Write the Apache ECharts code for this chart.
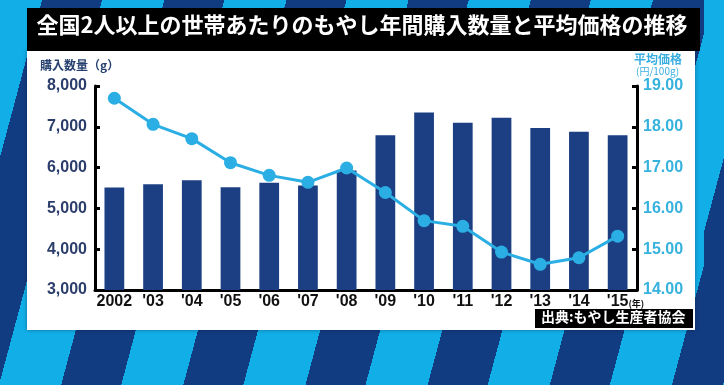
<!DOCTYPE html>
<html><head><meta charset="utf-8">
<script src="https://cdn.jsdelivr.net/npm/echarts@6/dist/echarts.min.js"></script>
<style>
html,body{margin:0;padding:0;}
#bg{position:absolute;left:0;top:0;width:724px;height:385px;
background:repeating-linear-gradient(105deg,#12aee8 0px,#12aee8 60px,#123c82 60px,#123c82 118px);
background-position:-20px 0;}
#c{position:absolute;left:0;top:0;width:724px;height:385px;}
</style></head>
<body><div id="bg"></div><div id="c"></div>
<script>
const years = ['2002',"'03","'04","'05","'06","'07","'08","'09","'10","'11","'12","'13","'14","'15"];
const quantity = [5510, 5590, 5690, 5520, 5630, 5560, 5930, 6790, 7350, 7100, 7220, 6970, 6880, 6790];
const price = [18.70, 18.06, 17.71, 17.12, 16.81, 16.64, 16.99, 16.39, 15.70, 15.56, 14.93, 14.63, 14.79, 15.32];
const leftTicks = [3000, 8000, 1000];
const rightTicks = [14, 19, 1];
const titleText = '全国2人以上の世帯あたりのもやし年間購入数量と平均価格の推移';
const sourceText = '出典:もやし生産者協会';

const chart = echarts.init(document.getElementById('c'), null, {renderer:'canvas'});
const navy = '#1b3f82';
const cyan = '#2aaee3';
const font = '"Liberation Sans", Arial, sans-serif';
const jp = '"Noto Sans CJK JP", sans-serif';
chart.setOption({
  backgroundColor: 'transparent',
  animation: false,
  graphic: [
    {type:'rect', z:-10, shape:{x:27,y:50,width:668,height:280}, style:{fill:'#ffffff', shadowBlur:4, shadowColor:'rgba(0,0,0,0.35)'}},
    {type:'rect', z:-9, shape:{x:27,y:8,width:673,height:43}, style:{fill:'#000000'}},
    {type:'text', z:5, left:'center', top:14, style:{text:titleText, fill:'#ffffff', font:'bold 22px ' + jp}},
    {type:'text', z:5, left:40, top:59, style:{text:'購入数量（g）', fill:'#26406f', font:'bold 12px ' + jp}},
    {type:'text', z:5, left:634, top:53, style:{text:'平均価格', fill:'#3aaee0', font:'bold 12px ' + jp}},
    {type:'text', z:5, left:636, top:66, style:{text:'(円/100g)', fill:'#3aaee0', font:'10px ' + jp}},
    {type:'rect', z:6, shape:{x:535,y:309,width:158,height:19}, style:{fill:'#000000'}},
    {type:'text', z:7, left:541, top:310, style:{text:sourceText, fill:'#ffffff', font:'bold 14px ' + jp}}
  ],
  grid: {left:95, right:87, top:86, bottom:95, containLabel:false},
  xAxis: {
    type:'category', data: years,
    axisLine:{show:true, lineStyle:{color:'#000', width:3}},
    axisTick:{show:false},
    axisLabel:{
      interval:0, hideOverlap:false,
      color:'#111', fontWeight:'bold', fontSize:16, fontFamily:font, margin:4,
      formatter: (v) => v === "'15" ? "{h|(年)}'15{s|(年)}" : v,
      rich:{
        h:{fontSize:9, color:'rgba(0,0,0,0)', fontFamily:jp},
        s:{fontSize:9, color:'#111', fontFamily:jp, fontWeight:'bold', padding:[4,0,0,0]}
      }
    },
    splitLine:{show:false}
  },
  yAxis: [
    {
      type:'value', min:leftTicks[0], max:leftTicks[1], interval:leftTicks[2], position:'left',
      axisLine:{show:true, lineStyle:{color:'#000', width:3}},
      axisTick:{show:true, inside:true, length:5, lineStyle:{color:'#000', width:3}},
      axisLabel:{color:'#2b3d6b', fontWeight:'bold', fontSize:16, fontFamily:font, margin:8,
        formatter:(v)=>v.toLocaleString('en-US')},
      splitLine:{show:false}
    },
    {
      type:'value', min:rightTicks[0], max:rightTicks[1], interval:rightTicks[2], position:'right',
      axisLine:{show:true, lineStyle:{color:'#000', width:3}},
      axisTick:{show:true, inside:true, length:5, lineStyle:{color:'#000', width:3}},
      axisLabel:{color:'#36b2de', fontWeight:'bold', fontSize:16, fontFamily:font, margin:6,
        formatter:(v)=>v.toFixed(2)},
      splitLine:{show:false}
    }
  ],
  series: [
    {type:'bar', data:quantity, yAxisIndex:0, barWidth:'51%', itemStyle:{color:navy}, z:2},
    {type:'line', data:price, yAxisIndex:1, symbol:'circle', symbolSize:13,
      lineStyle:{color:cyan, width:3}, itemStyle:{color:cyan}, z:3}
  ]
});
</script></body></html>
